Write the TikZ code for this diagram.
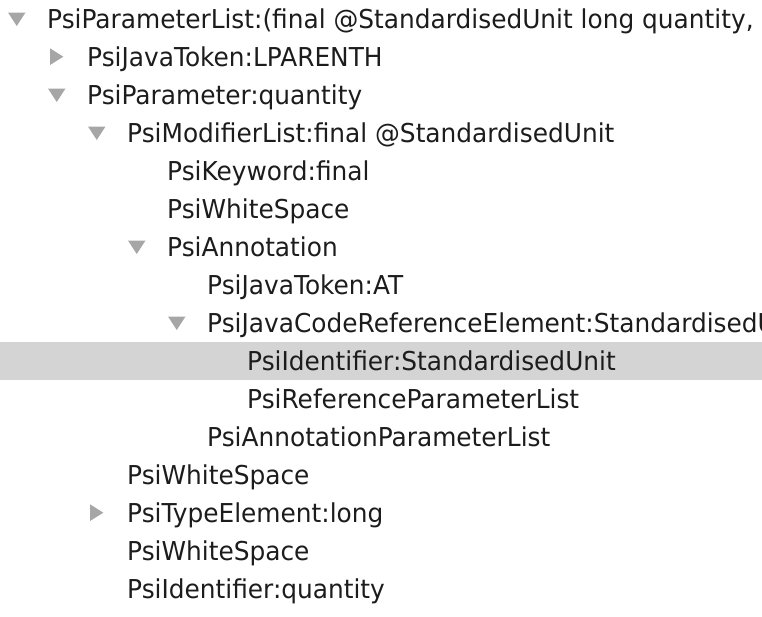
\documentclass[tikz,border=0pt]{standalone}
\usepackage{fontspec}
\setmainfont[FakeStretch=0.955]{DejaVu Sans}
\definecolor{txt}{HTML}{1C1C1C}
\definecolor{tri}{HTML}{A6A6A6}
\definecolor{sel}{HTML}{D4D4D4}
\begin{document}
\begin{tikzpicture}[x=1pt,y=-1pt,
  lbl/.style={anchor=base west,inner sep=0pt,text=txt,font=\fontsize{26}{30}\selectfont},
  tri/.style={fill=tri,draw=none}]
\useasboundingbox (0,0) rectangle (762,616);
\clip (0,0) rectangle (762,616);
\fill[sel] (0,342) rectangle (762,380);
% rows: level L, row i -> x = 47+40L, baseline y = 28.3+38i
\node[lbl] (r0) at (47,28.3) {PsiParameterList:(final @StandardisedUnit long quantity, @StandardisedUnit};
\node[lbl] (r1) at (87,66.3) {PsiJavaToken:LPARENTH};
\node[lbl] (r2) at (87,104.3) {PsiParameter:quantity};
\node[lbl] (r3) at (127,142.3) {PsiModifierList:final @StandardisedUnit};
\node[lbl] (r4) at (167,180.3) {PsiKeyword:final};
\node[lbl] (r5) at (167,218.3) {PsiWhiteSpace};
\node[lbl] (r6) at (167,256.3) {PsiAnnotation};
\node[lbl] (r7) at (207,294.3) {PsiJavaToken:AT};
\node[lbl] (r8) at (207,332.3) {PsiJavaCodeReferenceElement:StandardisedUnit};
\node[lbl] (r9) at (247,370.3) {PsiIdentifier:StandardisedUnit};
\node[lbl] (r10) at (247,408.3) {PsiReferenceParameterList};
\node[lbl] (r11) at (207,446.3) {PsiAnnotationParameterList};
\node[lbl] (r12) at (127,484.3) {PsiWhiteSpace};
\node[lbl] (r13) at (127,522.3) {PsiTypeElement:long};
\node[lbl] (r14) at (127,560.3) {PsiWhiteSpace};
\node[lbl] (r15) at (127,598.3) {PsiIdentifier:quantity};
% expander triangles
\newcommand\downtri[2]{\fill[tri] ({8+40*#1},{12.5+38*#2}) -- ({25.5+40*#1},{12.5+38*#2}) -- ({16.75+40*#1},{26+38*#2}) -- cycle;}
\newcommand\righttri[2]{\fill[tri] ({10+40*#1},{10.3+38*#2}) -- ({23.3+40*#1},{18.7+38*#2}) -- ({10+40*#1},{27+38*#2}) -- cycle;}
\downtri{0}{0}
\righttri{1}{1}
\downtri{1}{2}
\downtri{2}{3}
\downtri{3}{6}
\downtri{4}{8}
\righttri{2}{13}
\end{tikzpicture}
\end{document}
